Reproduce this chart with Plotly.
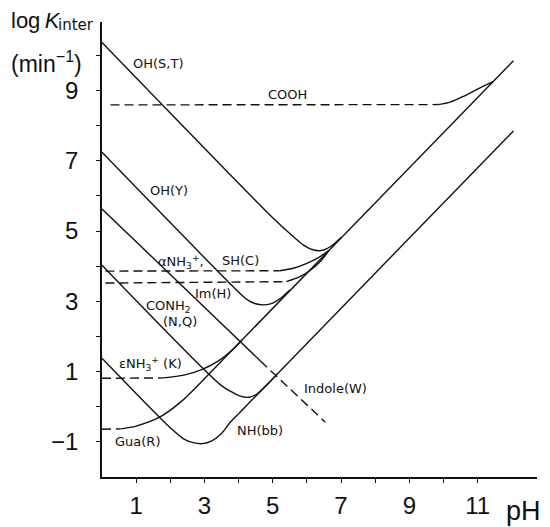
import plotly.graph_objects as go

# values: pH vs log k_inter
ohst_ph = [0, 5.0, 5.5, 5.9, 6.2, 6.45, 6.7, 7.0]
ohst_k = [10.37, 5.38, 4.93, 4.6, 4.46, 4.45, 4.56, 4.82]

ohy_ph = [0, 3.9, 4.25, 4.5, 4.75, 5.0, 5.25, 5.5]
ohy_k = [7.24, 3.36, 3.05, 2.93, 2.9, 2.95, 3.1, 3.32]

conh2_ph = [0, 3.5, 3.8, 4.05, 4.3, 4.55, 4.85, 5.15]
conh2_k = [4.03, 0.6, 0.42, 0.3, 0.27, 0.37, 0.64, 0.95]

nhbb_ph = [0, 2.0, 2.4, 2.7, 2.95, 3.2, 3.5, 3.75, 4.0]
nhbb_k = [1.38, -0.6, -0.92, -1.03, -1.05, -0.98, -0.76, -0.45, -0.2]

# shared base-catalysed branches
upper_ph = [2.9, 12.05]
upper_k = [0.7, 9.85]
lower_ph = [4.0, 12.05]
lower_k = [-0.2, 7.85]

# groups drawn dashed at low pH, solid where they rise
anh3_dash_ph = [0.1, 5.2]
anh3_dash_k = [3.86, 3.87]
anh3_ph = [5.2, 5.6, 6.0, 6.35, 6.65]
anh3_k = [3.87, 3.94, 4.08, 4.25, 4.45]

im_dash_ph = [0.1, 5.4]
im_dash_k = [3.52, 3.56]
im_ph = [5.4, 5.8, 6.15, 6.4, 6.65]
im_k = [3.56, 3.7, 3.92, 4.14, 4.45]

cooh_dash_ph = [0.25, 9.85]
cooh_dash_k = [8.59, 8.6]
cooh_ph = [9.85, 10.2, 10.6, 11.0, 11.45]
cooh_k = [8.6, 8.67, 8.84, 9.04, 9.25]

enh3_dash_ph = [0, 1.8]
enh3_dash_k = [0.81, 0.82]
enh3_ph = [1.8, 2.4, 2.9, 3.4, 3.8, 4.1]
enh3_k = [0.82, 0.9, 1.05, 1.3, 1.6, 1.9]

gua_dash_ph = [0, 0.55]
gua_dash_k = [-0.64, -0.63]
gua_ph = [0.55, 1.0, 1.7, 2.3, 2.9]
gua_k = [-0.63, -0.55, -0.29, 0.13, 0.7]

indole_ph = [0, 4.64]
indole_k = [5.63, 1.3]
indole_dash_ph = [4.64, 6.54]
indole_dash_k = [1.3, -0.44]

# curve labels: (text, pH, log k)
labels = [
    ("OH(S,T)", 1.63, 9.77),
    ("COOH", 5.43, 8.9),
    ("OH(Y)", 1.95, 6.15),
    ("αNH<sub>3</sub><sup>+</sup>,", 2.32, 4.13),
    ("SH(C)", 4.05, 4.16),
    ("Im(H)", 3.26, 3.22),
    ("CONH<sub>2</sub>", 1.94, 2.85),
    ("(N,Q)", 2.29, 2.43),
    ("εNH<sub>3</sub><sup>+</sup> (K)", 1.41, 1.23),
    ("Gua(R)", 1.03, -0.99),
    ("NH(bb)", 4.64, -0.68),
    ("Indole(W)", 6.83, 0.52),
]

x_ticks = list(range(1, 12))
x_ticktext = [str(v) if v % 2 else "" for v in x_ticks]
y_ticks = list(range(-1, 11))
y_ticktext = [str(v).replace("-", "−") if v % 2 else "" for v in y_ticks]

INK = "#111111"


def add_curve(fig, x, y, dash="solid", smooth=True):
    fig.add_scatter(
        x=x, y=y, mode="lines",
        line=dict(color=INK, width=1.4, dash=dash,
                  shape="spline" if smooth else "linear", smoothing=0.8),
        showlegend=False, hoverinfo="skip",
    )


fig = go.Figure()

for xs, ys in [(ohst_ph, ohst_k), (ohy_ph, ohy_k), (conh2_ph, conh2_k),
               (nhbb_ph, nhbb_k), (anh3_ph, anh3_k), (im_ph, im_k),
               (cooh_ph, cooh_k), (enh3_ph, enh3_k), (gua_ph, gua_k)]:
    add_curve(fig, xs, ys)

for xs, ys in [(upper_ph, upper_k), (lower_ph, lower_k), (indole_ph, indole_k)]:
    add_curve(fig, xs, ys, smooth=False)

for xs, ys in [(anh3_dash_ph, anh3_dash_k), (im_dash_ph, im_dash_k),
               (cooh_dash_ph, cooh_dash_k), (enh3_dash_ph, enh3_dash_k),
               (gua_dash_ph, gua_dash_k), (indole_dash_ph, indole_dash_k)]:
    add_curve(fig, xs, ys, dash="9px,5px", smooth=False)

for text, px, pk in labels:
    fig.add_annotation(x=px, y=pk, text=text, showarrow=False,
                       font=dict(family="DejaVu Sans", size=13, color=INK))

# axis titles drawn as free text like in the original
fig.add_annotation(xref="paper", yref="paper", x=-0.214, y=1.004,
                   xanchor="left", yanchor="middle",
                   text="log\u2009<i>K</i>", showarrow=False,
                   font=dict(family="Liberation Sans", size=22, color=INK))
fig.add_annotation(xref="paper", yref="paper", x=-0.106, y=0.994,
                   xanchor="left", yanchor="middle",
                   text="inter", showarrow=False,
                   font=dict(family="DejaVu Sans", size=15, color=INK))
fig.add_annotation(xref="paper", yref="paper", x=-0.214, y=0.912,
                   xanchor="left", yanchor="middle",
                   text="(min<sup>−1</sup>)", showarrow=False,
                   font=dict(family="Liberation Sans", size=23, color=INK))
fig.add_annotation(xref="paper", yref="paper", x=0.97, y=-0.074,
                   xanchor="center", yanchor="middle",
                   text="pH", showarrow=False,
                   font=dict(family="Liberation Sans", size=27, color=INK))

axis_common = dict(showgrid=False, zeroline=False, automargin=False,
                   tickwidth=1.3, tickcolor=INK, ticklen=4)

# the page adds an 8px body margin, so the figure is 8px smaller each way
fig.update_layout(
    width=542, height=519,
    margin=dict(l=94, r=13, t=14, b=50),
    paper_bgcolor="white", plot_bgcolor="white",
    font=dict(family="Liberation Sans", color=INK),
    xaxis=dict(range=[0, 12.74], showline=True, linecolor=INK, linewidth=1.5,
               ticks="outside", tickvals=x_ticks, ticktext=x_ticktext,
               tickfont=dict(size=24), ticklabelstandoff=2, **axis_common),
    yaxis=dict(range=[-2, 10.95], showline=True, linecolor=INK, linewidth=1.5,
               ticks="outside", tickvals=y_ticks, ticktext=y_ticktext,
               tickfont=dict(size=24), ticklabelstandoff=13, **axis_common),
    # second pair of axes only to make the ticks cross the axis lines
    xaxis2=dict(overlaying="x", matches="x", anchor="y", side="bottom",
                showline=False, ticks="inside", tickvals=x_ticks,
                showticklabels=False, **axis_common),
    yaxis2=dict(overlaying="y", matches="y", anchor="x", side="left",
                showline=False, ticks="inside", tickvals=y_ticks,
                showticklabels=False, **axis_common),
)

fig.write_html("out.html")
